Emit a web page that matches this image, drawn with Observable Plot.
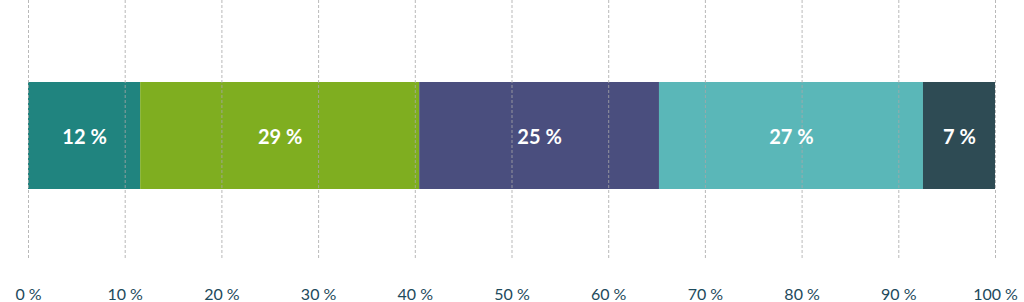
<!DOCTYPE html>
<html><head><meta charset="utf-8">
<script src="https://cdn.jsdelivr.net/npm/d3@7"></script>
<script src="https://cdn.jsdelivr.net/npm/@observablehq/plot@0.6"></script>
<style>
html,body{margin:0;padding:0;background:#fff;}
</style>
</head><body><div id="chart"></div>
<script>
const categories = ["A", "B", "C", "D", "E"];
const values = [11.6, 28.85, 24.8, 27.3, 7.45];
const labels = ["12 %", "29 %", "25 %", "27 %", "7 %"];
const colors = ["#20847f", "#7fae20", "#4a4e7e", "#5ab7b8", "#2e4b54"];
const tickValues = [0, 10, 20, 30, 40, 50, 60, 70, 80, 90, 100];
const tickLabels = tickValues.map(v => v + " %");

const data = categories.map((c, i) => ({cat: c, value: values[i], label: labels[i], row: "Total"}));

const chart = Plot.plot({
  width: 1024,
  height: 302,
  marginLeft: 28,
  marginRight: 29,
  marginTop: 0,
  marginBottom: 44,
  style: {fontFamily: "Lato, 'Open Sans', sans-serif", background: "#fff"},
  x: {domain: [0, 100], ticks: tickValues, tickFormat: (d, i) => tickLabels[i], tickSize: 0, tickPadding: 30, label: null},
  y: {domain: ["Total"], range: [82, 189], padding: 0, axis: null},
  color: {domain: categories, range: colors},
  marks: [
    Plot.barX(data, Plot.stackX({x: "value", y: "row", fill: "cat", order: null})),
    Plot.gridX({ticks: tickValues, stroke: "#a8a8a8", strokeOpacity: 0.8, strokeDasharray: "3,2", strokeWidth: 1}),
    Plot.text(data, Plot.stackX({x: "value", y: "row", text: "label", order: null, fill: "white", fontWeight: "bold", fontSize: 20, dy: 2})),
    Plot.axisX({ticks: tickValues, tickFormat: (d, i) => tickLabels[i], tickSize: 0, tickPadding: 30, fontSize: 16, fill: "#1d4a5c", label: null})
  ]
});
document.getElementById("chart").appendChild(chart);
</script>
</body></html>
